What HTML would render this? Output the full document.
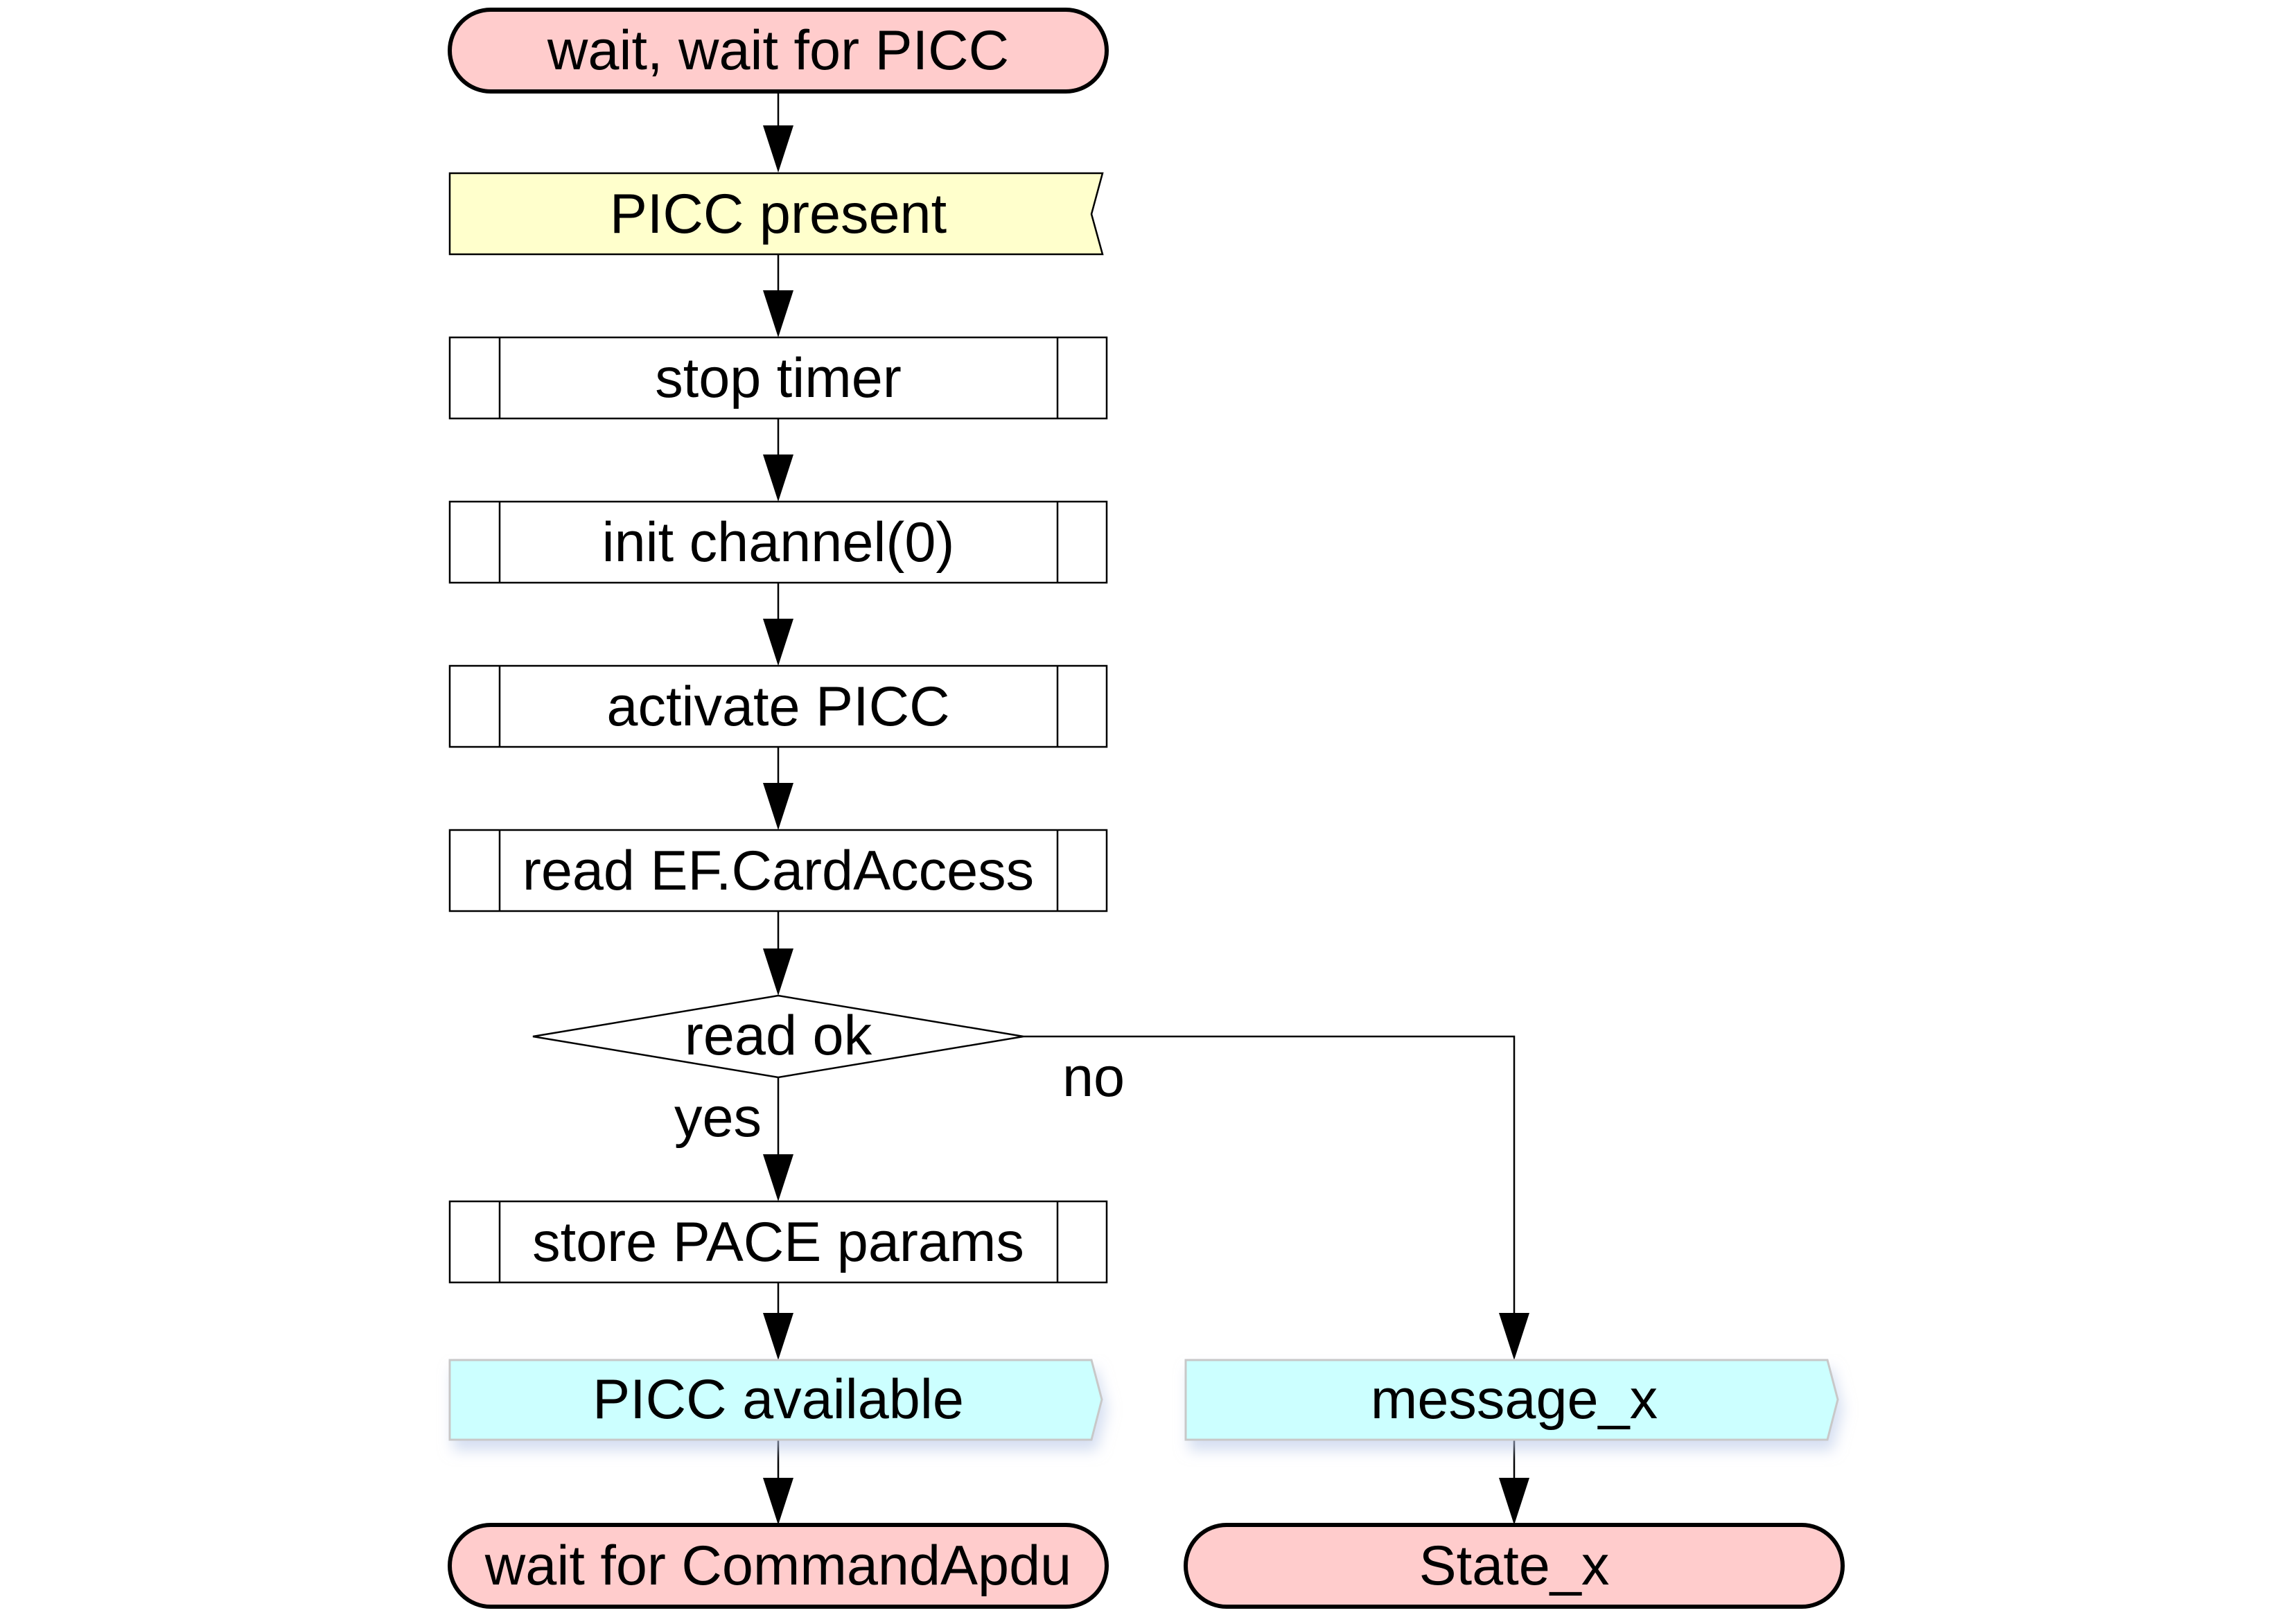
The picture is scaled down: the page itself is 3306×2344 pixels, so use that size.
<!DOCTYPE html>
<html><head><meta charset="utf-8"><style>
html,body{margin:0;padding:0;background:#fff;}
svg{display:block;}
text{font-family:"Liberation Sans",Arial,sans-serif;font-size:81px;fill:#000;text-anchor:middle;}
</style></head><body>
<svg width="3306" height="2344" viewBox="0 0 3306 2344" xmlns="http://www.w3.org/2000/svg">
<defs>
<filter id="sh" x="-10%" y="-20%" width="130%" height="160%">
<feGaussianBlur in="SourceAlpha" stdDeviation="10"/>
<feOffset dx="6" dy="14" result="b"/>
<feFlood flood-color="#b8c8e8" flood-opacity="0.6"/>
<feComposite in2="b" operator="in"/>
<feMerge><feMergeNode/><feMergeNode in="SourceGraphic"/></feMerge>
</filter>
</defs>
<g transform="translate(-4,-1)">
<g stroke="#000" stroke-width="2.5" fill="none">
<line x1="1127" y1="134" x2="1127" y2="184"/>
<line x1="1127" y1="368" x2="1127" y2="424"/>
<line x1="1127" y1="605" x2="1127" y2="661"/>
<line x1="1127" y1="842" x2="1127" y2="898"/>
<line x1="1127" y1="1079" x2="1127" y2="1135"/>
<line x1="1127" y1="1316" x2="1127" y2="1372"/>
<line x1="1127" y1="1556" x2="1127" y2="1670"/>
<polyline points="1481,1497 2189,1497 2189,1900"/>
<line x1="1127" y1="1852" x2="1127" y2="1900"/>
<line x1="1127" y1="2079" x2="1127" y2="2137"/>
<line x1="2189" y1="2079" x2="2189" y2="2137"/>
</g>
<g fill="#000">
<path d="M1105,182 L1149,182 L1127,250 Z"/>
<path d="M1105,420 L1149,420 L1127,488 Z"/>
<path d="M1105,657 L1149,657 L1127,725 Z"/>
<path d="M1105,894 L1149,894 L1127,962 Z"/>
<path d="M1105,1131 L1149,1131 L1127,1199 Z"/>
<path d="M1105,1370 L1149,1370 L1127,1438 Z"/>
<path d="M1105,1667 L1149,1667 L1127,1735 Z"/>
<path d="M1105,1896 L1149,1896 L1127,1964 Z"/>
<path d="M2167,1896 L2211,1896 L2189,1964 Z"/>
<path d="M1105,2134 L1149,2134 L1127,2202 Z"/>
<path d="M2167,2134 L2211,2134 L2189,2202 Z"/>
</g>
<rect x="653" y="15" width="948" height="118" rx="59" fill="#ffcccc" stroke="#000" stroke-width="6"/>
<text x="1127" y="101">wait, wait for PICC</text>
<path d="M653,251 L1595,251 L1579,310 L1595,368 L653,368 Z" fill="#ffffcc" stroke="#000" stroke-width="2.5"/>
<text x="1127" y="337">PICC present</text>
<g fill="#fff" stroke="#000" stroke-width="2.5">
<rect x="653" y="488" width="948" height="117"/><line x1="725" y1="488" x2="725" y2="605"/><line x1="1530" y1="488" x2="1530" y2="605"/>
<rect x="653" y="725" width="948" height="117"/><line x1="725" y1="725" x2="725" y2="842"/><line x1="1530" y1="725" x2="1530" y2="842"/>
<rect x="653" y="962" width="948" height="117"/><line x1="725" y1="962" x2="725" y2="1079"/><line x1="1530" y1="962" x2="1530" y2="1079"/>
<rect x="653" y="1199" width="948" height="117"/><line x1="725" y1="1199" x2="725" y2="1316"/><line x1="1530" y1="1199" x2="1530" y2="1316"/>
<rect x="653" y="1735" width="948" height="117"/><line x1="725" y1="1735" x2="725" y2="1852"/><line x1="1530" y1="1735" x2="1530" y2="1852"/>
<path d="M773,1497 L1127,1438 L1481,1497 L1127,1556 Z"/>
</g>
<text x="1127" y="1523">read ok</text>
<text x="1127" y="574">stop timer</text>
<text x="1127" y="811">init channel(0)</text>
<text x="1127" y="1048">activate PICC</text>
<text x="1127" y="1285">read EF.CardAccess</text>
<text x="1040" y="1641">yes</text>
<text x="1582" y="1583">no</text>
<text x="1127" y="1821">store PACE params</text>
<g filter="url(#sh)" fill="#ccffff" stroke="#c8c8c8" stroke-width="3">
<path d="M653,1964 L1579,1964 L1594,2021 L1579,2079 L653,2079 Z"/>
<path d="M1715,1964 L2641,1964 L2656,2021 L2641,2079 L1715,2079 Z"/>
</g>
<text x="1127" y="2048">PICC available</text>
<text x="2189" y="2048">message_x</text>
<rect x="653" y="2202" width="948" height="118" rx="59" fill="#ffcccc" stroke="#000" stroke-width="6"/>
<text x="1127" y="2288">wait for CommandApdu</text>
<rect x="1715" y="2202" width="948" height="118" rx="59" fill="#ffcccc" stroke="#000" stroke-width="6"/>
<text x="2189" y="2288">State_x</text>
</g>
</svg>
</body></html>
